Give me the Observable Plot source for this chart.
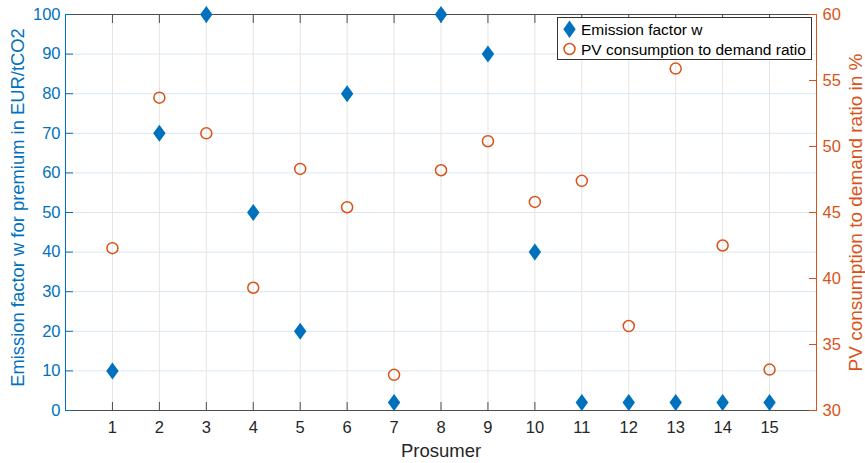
<!DOCTYPE html>
<html>
<head>
<meta charset="utf-8">
<script src="https://cdn.jsdelivr.net/npm/d3@7"></script>
<script src="https://cdn.jsdelivr.net/npm/@observablehq/plot@0.6"></script>
<style>
  body { margin: 0; background: #fff; font-family: "Liberation Sans", Arial, Helvetica, sans-serif; }
  #wrap { position: relative; width: 865px; height: 463px; }
  #legend { position: absolute; left: 0; top: 0; pointer-events: none; }
</style>
</head>
<body>
<div id="wrap"></div>
<script>
// ---- data ----
const prosumers = [1, 2, 3, 4, 5, 6, 7, 8, 9, 10, 11, 12, 13, 14, 15];
const emissionFactor = [10, 70, 100, 50, 20, 80, 2, 100, 90, 40, 2, 2, 2, 2, 2];
const pvRatio = [42.3, 53.7, 51.0, 39.3, 48.3, 45.4, 32.7, 48.2, 50.4, 45.8, 47.4, 36.4, 55.9, 42.5, 33.1];
const xTicks = [1, 2, 3, 4, 5, 6, 7, 8, 9, 10, 11, 12, 13, 14, 15];
const leftTicks = [0, 10, 20, 30, 40, 50, 60, 70, 80, 90, 100];
const rightTicks = [30, 35, 40, 45, 50, 55, 60];
const xDomain = [0, 16];
const leftDomain = [0, 100];
const rightDomain = [30, 60];
const seriesNames = ["Emission factor w", "PV consumption to demand ratio"];
const xLabel = "Prosumer";
const leftLabel = "Emission factor w for premium in EUR/tCO2";
const rightLabel = "PV consumption to demand ratio in %";

// ---- styles ----
const blue = "#0072BD", orange = "#D95319", axisGray = "#4d4d4d", textGray = "#262626";
const font = "'Liberation Sans', Arial, Helvetica, sans-serif";

// map right-axis values onto the left (primary) y scale
const toLeft = v => (v - rightDomain[0]) / (rightDomain[1] - rightDomain[0]) * (leftDomain[1] - leftDomain[0]) + leftDomain[0];
const fromLeft = v => (v - leftDomain[0]) / (leftDomain[1] - leftDomain[0]) * (rightDomain[1] - rightDomain[0]) + rightDomain[0];

const data = prosumers.map((p, i) => ({ p, w: emissionFactor[i], r: pvRatio[i] }));

const diamond = {
  draw(ctx, size) {
    const r = Math.sqrt(size / Math.PI);
    const w = r * 0.73;
    ctx.moveTo(0, -r); ctx.lineTo(w, 0); ctx.lineTo(0, r); ctx.lineTo(-w, 0); ctx.closePath();
  }
};

const chart = Plot.plot({
  width: 865,
  height: 463,
  marginLeft: 65,
  marginRight: 49,
  marginTop: 14,
  marginBottom: 53,
  style: { fontFamily: font, fontSize: "16px", background: "white", overflow: "visible" },
  x: { domain: xDomain },
  y: { domain: leftDomain },
  marks: [
    Plot.gridY(leftTicks, { stroke: "#dbe8f3", strokeOpacity: 1 }),
    Plot.gridX(xTicks, { stroke: "#e4e4e4", strokeOpacity: 1 }),
    Plot.ruleY([leftDomain[1]], { stroke: axisGray }),
    Plot.ruleY([leftDomain[0]], { stroke: axisGray }),
    Plot.ruleX([xDomain[0]], { stroke: blue }),
    Plot.ruleX([xDomain[1]], { stroke: orange }),
    // bottom axis: inward ticks + labels
    Plot.axisX(xTicks, { anchor: "bottom", tickSize: -8, tickPadding: 19, stroke: axisGray, fill: textGray, fontSize: 16.5, label: null }),
    // top axis: inward ticks only
    Plot.axisX(xTicks, { anchor: "top", tickSize: -8, stroke: axisGray, fill: "none", label: null }),
    // left axis
    Plot.axisY(leftTicks, { anchor: "left", tickSize: -8, tickPadding: 13, stroke: blue, fill: blue, fontSize: 16.5, label: null }),
    // right axis
    Plot.axisY(rightTicks.map(toLeft), { anchor: "right", tickSize: -8, tickPadding: 14, stroke: orange, fill: orange, fontSize: 16.5, label: null, tickFormat: d => Math.round(fromLeft(d)) }),
    // axis titles
    Plot.text([xLabel], { text: d => d, frameAnchor: "bottom", dy: 41, textAnchor: "middle", lineAnchor: "middle", fill: textGray, fontSize: 18.5 }),
    Plot.text([leftLabel], { text: d => d, frameAnchor: "left", rotate: -90, dx: -47, dy: -5, textAnchor: "middle", lineAnchor: "middle", fill: blue, fontSize: 18.4 }),
    Plot.text([rightLabel], { text: d => d, frameAnchor: "right", rotate: -90, dx: 39, textAnchor: "middle", lineAnchor: "middle", fill: orange, fontSize: 19 }),
    // data
    Plot.dot(data, { x: "p", y: d => toLeft(d.r), r: 5.5, stroke: orange, strokeWidth: 1.5, fill: "none" }),
    Plot.dot(data, { x: "p", y: "w", r: 8.5, symbol: diamond, fill: blue, stroke: "none" })
  ]
});

const wrap = document.getElementById("wrap");
wrap.appendChild(chart);

// legend overlay
const ns = "http://www.w3.org/2000/svg";
const lg = document.createElementNS(ns, "svg");
lg.setAttribute("id", "legend");
lg.setAttribute("width", 865);
lg.setAttribute("height", 463);
lg.innerHTML = `
  <rect x="557.5" y="17.5" width="254" height="42" fill="white" stroke="#333" stroke-width="1"/>
  <path d="M569.5,20.5 L575.7,29.3 L569.5,38.1 L563.3,29.3 Z" fill="${blue}"/>
  <circle cx="569.5" cy="49" r="5.5" fill="none" stroke="${orange}" stroke-width="1.5"/>
  <text x="581" y="35" font-family="${font}" font-size="15.5" fill="#000">${seriesNames[0]}</text>
  <text x="581" y="55" font-family="${font}" font-size="15.5" fill="#000">${seriesNames[1]}</text>
`;
wrap.appendChild(lg);
</script>
</body>
</html>
